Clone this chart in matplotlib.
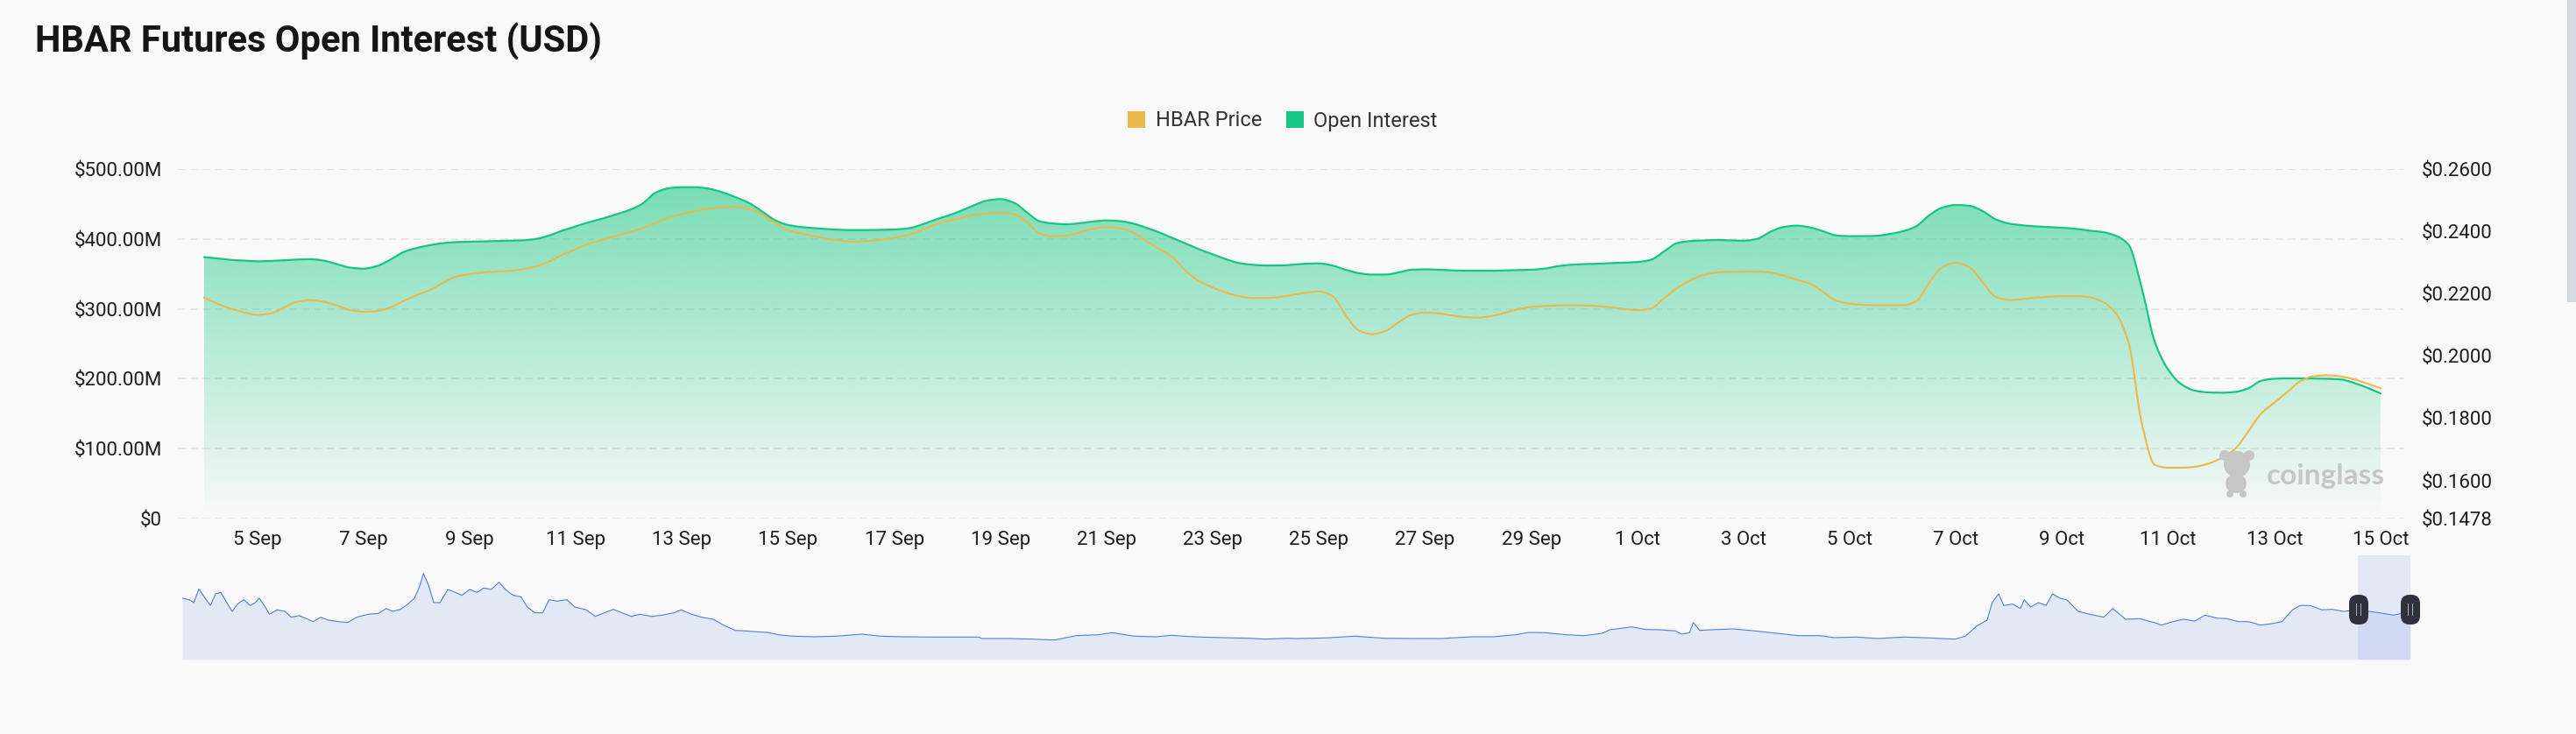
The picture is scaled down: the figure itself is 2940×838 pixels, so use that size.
import numpy as np
import matplotlib
matplotlib.use("Agg")
import matplotlib.pyplot as plt
import matplotlib.dates as mdates
from matplotlib.patches import Patch, FancyBboxPatch, Rectangle, Circle, Ellipse
from matplotlib.transforms import IdentityTransform
from matplotlib.ticker import FuncFormatter

# ---------------- data ----------------
start_date = "2025-09-04T00:00"
step_hours = 6
# Open interest (USD millions), every 6 hours from 4 Sep 00:00 to 15 Oct 00:00
open_interest = [
    374, 372, 370, 369, 368, 368.5, 369.5, 370.5,
    371, 369, 364, 359, 357.5, 361, 370, 381,
    387, 391, 394, 395.5, 396, 396.5, 397, 397.5,
    398, 400, 405, 412, 418, 424, 429, 435,
    441, 450, 466, 472.5, 474, 474, 472, 467,
    460, 452, 440, 427, 420, 417, 415.5, 414,
    413, 412.7, 412.7, 413, 413.5, 415, 420, 427,
    433, 440, 448, 455, 457, 452, 438, 425,
    422, 421, 422.5, 425, 426.5, 425.5, 422, 416,
    409, 401, 393, 385, 378, 371, 365.5, 363,
    362, 362, 363, 364.5, 365, 362, 356, 351,
    349, 349, 352, 356, 356.5, 356, 355, 354.6,
    354.5, 354.5, 355, 355.5, 356, 357.5, 361, 363,
    364, 364.5, 365.5, 366, 367, 370, 382, 394,
    397, 398, 398.5, 398, 397.5, 400, 410, 417,
    419, 416.5, 411, 405, 404, 404, 404.5, 407,
    411, 418, 434, 445, 448.6, 447.5, 440, 428,
    422, 419.5, 418, 417, 416, 414.5, 412, 410,
    405, 392, 330, 252, 213, 192, 183, 180.5,
    180, 181, 186, 197, 200, 200.5, 200.5, 200.3,
    200, 199, 194, 187, 179,
]
# HBAR price (USD), same timestamps
hbar_price = [
    0.2187, 0.2168, 0.2152, 0.2140, 0.2132, 0.2136, 0.2155, 0.2174,
    0.2179, 0.2174, 0.2162, 0.2147, 0.2142, 0.2144, 0.2155, 0.2176,
    0.2195, 0.2211, 0.2235, 0.2255, 0.2263, 0.2268, 0.2271, 0.2273,
    0.2278, 0.2287, 0.2303, 0.2325, 0.2343, 0.2360, 0.2372, 0.2385,
    0.2397, 0.2410, 0.2427, 0.2443, 0.2455, 0.2465, 0.2472, 0.2477,
    0.2479, 0.2473, 0.2455, 0.2428, 0.2404, 0.2393, 0.2384, 0.2376,
    0.2370, 0.2367, 0.2369, 0.2373, 0.2379, 0.2388, 0.2403, 0.2420,
    0.2433, 0.2442, 0.2452, 0.2458, 0.2460, 0.2455, 0.2430, 0.2392,
    0.2384, 0.2387, 0.2397, 0.2408, 0.2414, 0.2410, 0.2396, 0.2368,
    0.2343, 0.2316, 0.2272, 0.2240, 0.2220, 0.2203, 0.2192, 0.2186,
    0.2186, 0.2189, 0.2196, 0.2203, 0.2207, 0.2193, 0.2132, 0.2082,
    0.2070, 0.2080, 0.2108, 0.2132, 0.2139, 0.2137, 0.2130, 0.2125,
    0.2123, 0.2128, 0.2138, 0.2150, 0.2157, 0.2160, 0.2162, 0.2163,
    0.2162, 0.2160, 0.2156, 0.2151, 0.2147, 0.2152, 0.2185, 0.2218,
    0.2243, 0.2260, 0.2268, 0.2270, 0.2271, 0.2271, 0.2268, 0.2258,
    0.2245, 0.2232, 0.2205, 0.2177, 0.2168, 0.2164, 0.2163, 0.2163,
    0.2163, 0.2175, 0.2236, 0.2285, 0.2299, 0.2285, 0.2238, 0.2190,
    0.2180, 0.2182, 0.2187, 0.2190, 0.2192, 0.2192, 0.2189, 0.2175,
    0.2140, 0.2045, 0.1785, 0.1650, 0.1641, 0.1641, 0.1644, 0.1654,
    0.1672, 0.1700, 0.1755, 0.1815, 0.1850, 0.1885, 0.1920, 0.1935,
    0.1938, 0.1934, 0.1925, 0.1911, 0.1896,
]
# Navigator (full history overview): day offset and relative level
nav_days = [
    0, 6, 9, 13, 17, 22, 26, 30, 34, 39, 43, 48, 53, 57, 60, 64, 68, 74, 80, 85,
    91, 97, 102, 108, 114, 122, 129, 136, 145, 153, 159, 164, 170, 176, 181, 185, 188, 192, 196, 201,
    207, 213, 218, 224, 230, 235, 241, 247, 252, 258, 264, 269, 275, 281, 286, 292, 300, 306, 315, 322,
    329, 336, 343, 350, 357, 366, 374, 383, 389, 397, 405, 414, 422, 431, 439, 448, 456, 465, 476, 493,
    510, 530, 544, 561, 584, 606, 621, 623, 646, 663, 680, 697, 714, 725, 742, 759, 771, 788, 810, 833,
    844, 861, 869, 892, 914, 937, 960, 982, 1005, 1022, 1039, 1050, 1062, 1079, 1093, 1107, 1113, 1130,
    1141, 1152, 1164, 1169, 1175, 1178, 1183, 1192, 1209, 1226, 1243, 1260, 1277, 1288, 1305, 1322,
    1342, 1362, 1382, 1390, 1399, 1407, 1411, 1416, 1420, 1427, 1433, 1436, 1441, 1447, 1453, 1458,
    1464, 1469, 1478, 1487, 1498, 1505, 1509, 1515, 1526, 1537, 1543, 1552, 1560, 1569, 1577, 1586,
    1594, 1603, 1611, 1620, 1628, 1637, 1645, 1651, 1659, 1668, 1676, 1685, 1696, 1713, 1724, 1737,
]
nav_values = [
    70, 68, 65, 80.7, 71.7, 61.7, 75, 76.7, 66.7, 55, 63.3, 68.3, 61.7, 65, 70, 61.7, 51.7, 56.7, 55, 48.3,
    50, 46.7, 43.3, 48.3, 45, 43.3, 42.3, 48.3, 51.7, 52.7, 58.3, 55, 57.3, 63.3, 70, 83.3, 98.3, 85, 65, 65,
    80, 76.7, 73.3, 80, 76.7, 81.7, 80, 88.3, 80, 73.3, 71.7, 60, 53.3, 53.3, 68.3, 66.7, 68.3, 60, 56.7, 49.3,
    53.3, 57.3, 53.3, 49.3, 51.7, 49.3, 50.7, 53.3, 56.7, 51.7, 48.3, 46, 39.3, 33.3, 32.7, 31.7, 31, 28.3, 26.7, 26,
    26.7, 29, 26.7, 26, 25.7, 25.7, 25.7, 24, 24, 23.3, 22.3, 27.3, 28.3, 30.7, 26.7, 26, 27.7, 26, 25, 24.3,
    23.3, 24.3, 24, 24.7, 26.7, 24.3, 24, 24, 26, 26, 28.3, 31, 30.7, 28.3, 27.3, 30, 34, 37.3,
    34.3, 34, 32.7, 29, 30.7, 42.3, 33.3, 34, 35, 32.7, 30, 27.3, 27.3, 25, 25.7, 24,
    25.7, 24.7, 23.3, 26.7, 38.3, 45, 65, 75, 61.7, 63.3, 58.3, 68.3, 60, 65, 61.7, 75,
    70, 68.3, 55, 51.7, 48.3, 58.3, 53.3, 46, 46.7, 42.3, 39.3, 43.3, 46, 44, 50.7, 47.3,
    46.7, 43.3, 43.3, 39.3, 40.7, 43.3, 56.7, 61.7, 61.7, 56.7, 57.3, 55, 56.7, 53.3, 50.7, 55,
]
selected_window_days = 41

left_ticks = [0, 100, 200, 300, 400, 500]
right_ticks = [0.1478, 0.16, 0.18, 0.20, 0.22, 0.24, 0.26]

title = "HBAR Futures Open Interest (USD)"
legend_labels = ["HBAR Price", "Open Interest"]
watermark = "coinglass"

# ---------------- styles ----------------
BG = "#F9F9F9"
GREEN = "#16C784"
YELLOW = "#EAB94A"
GRID = "#E3E3E3"
TXT = "#1E1E1E"
W, H = 2940, 838


def pchip(x, y, xn):
    x = np.asarray(x, float)
    y = np.asarray(y, float)
    h = np.diff(x)
    d = np.diff(y) / h
    m = np.zeros_like(y)
    for k in range(1, len(y) - 1):
        if d[k - 1] * d[k] > 0:
            w1 = 2 * h[k] + h[k - 1]
            w2 = h[k] + 2 * h[k - 1]
            m[k] = (w1 + w2) / (w1 / d[k - 1] + w2 / d[k])
    m[0], m[-1] = d[0], d[-1]
    idx = np.clip(np.searchsorted(x, xn) - 1, 0, len(x) - 2)
    t = (xn - x[idx]) / h[idx]
    h00 = 2 * t**3 - 3 * t**2 + 1
    h10 = t**3 - 2 * t**2 + t
    h01 = -2 * t**3 + 3 * t**2
    h11 = t**3 - t**2
    return h00 * y[idx] + h10 * h[idx] * m[idx] + h01 * y[idx + 1] + h11 * h[idx] * m[idx + 1]


t0 = mdates.date2num(np.datetime64(start_date))
n = len(open_interest)
tx = t0 + np.arange(n) * step_hours / 24.0
xs = np.linspace(tx[0], tx[-1], 3000)
oi_s = pchip(tx, open_interest, xs)
pr_s = pchip(tx, hbar_price, xs)

fig = plt.figure(figsize=(W / 100, H / 100), dpi=100, facecolor=BG)

# main axes (pixel layout)
def fax(l, t, r, b):
    return [l / W, 1 - b / H, (r - l) / W, (b - t) / H]

ax = fig.add_axes(fax(203, 193, 2743, 592))
ax.set_facecolor("none")
ax2 = ax.twinx()
ax2.set_facecolor("none")

# gradient area
poly = ax.fill_between(xs, 0, oi_s, color="none", lw=0)
grad = np.zeros((256, 1, 4))
grad[:, 0, 0] = 22 / 255
grad[:, 0, 1] = 199 / 255
grad[:, 0, 2] = 132 / 255
grad[:, 0, 3] = np.linspace(0.0, 0.56, 256)
im = ax.imshow(grad, extent=[xs[0], xs[-1], 0, max(open_interest)], origin="lower",
               aspect="auto", zorder=2, interpolation="bilinear")
im.set_clip_path(poly.get_paths()[0], transform=ax.transData)
ax.plot(xs, oi_s, color=GREEN, lw=1.6, zorder=3, solid_capstyle="round")
ax2.plot(xs, pr_s, color=YELLOW, lw=1.5, zorder=3)

ax.set_xlim(t0 - 0.495, t0 + 41.43)
ax.set_ylim(0, 500)
ax2.set_ylim(0.1478, 0.26)
ax.set_yticks(left_ticks)
ax2.set_yticks(right_ticks)
ax.yaxis.set_major_formatter(FuncFormatter(lambda v, p: "$0" if v == 0 else f"${v:.2f}M"))
ax2.yaxis.set_major_formatter(FuncFormatter(lambda v, p: f"${v:.4f}"))

xt = t0 + np.arange(1, 42, 2)
ax.set_xticks(xt)
ax.xaxis.set_major_formatter(FuncFormatter(
    lambda v, p: f"{mdates.num2date(v).day} {mdates.num2date(v).strftime('%b')}"))

ax.grid(axis="y", color=GRID, lw=1.2, linestyle=(0, (5, 3.5)), zorder=0)
ax.grid(axis="x", visible=False)
ax.set_axisbelow(True)
for a in (ax, ax2):
    for s in a.spines.values():
        s.set_visible(False)
lab_font = dict(family=["Roboto", "DejaVu Sans"])
ax.tick_params(axis="x", length=0, pad=10, labelsize=16, labelcolor=TXT)
ax.tick_params(axis="y", length=0, pad=13, labelsize=16, labelcolor=TXT)
ax2.tick_params(axis="y", length=0, pad=15, labelsize=16, labelcolor=TXT)
for lab in ax.get_xticklabels() + ax.get_yticklabels() + ax2.get_yticklabels():
    lab.set_fontfamily(["Roboto", "DejaVu Sans"])

# title
fig.text(40 / W, 1 - 47 / H, title, ha="left", va="center", fontsize=30,
         fontweight="bold", color="#151515",
         family=["Liberation Sans Narrow", "Roboto", "DejaVu Sans"])

# legend
handles = [Patch(facecolor=YELLOW, edgecolor="none"), Patch(facecolor=GREEN, edgecolor="none")]
leg = fig.legend(handles, legend_labels, loc="center", bbox_to_anchor=(1464 / W, 1 - 138 / H),
                 ncol=2, frameon=False, handlelength=0.85, handleheight=0.85,
                 handletextpad=0.5, columnspacing=1.15,
                 prop=dict(family=["Roboto", "DejaVu Sans"], size=17))
for t in leg.get_texts():
    t.set_color("#333333")

# watermark
fig.text(2587 / W, 1 - 553 / H, watermark, ha="left", va="baseline", fontsize=24,
         fontweight="bold", color="#C6C6C6", family=["Lato", "DejaVu Sans"], zorder=5)
wm = "#C6C6C6"
for p in [Circle((2553, H - 530), 15), Circle((2539, H - 520), 6), Circle((2567, H - 520), 6),
          Ellipse((2552, H - 552), 24, 22), Ellipse((2545, H - 564), 8, 8), Ellipse((2560, H - 564), 8, 8)]:
    p.set_transform(IdentityTransform())
    p.set_facecolor(wm)
    p.set_edgecolor("none")
    p.set_zorder(5)
    fig.add_artist(p)

# navigator
nav = fig.add_axes(fax(208, 634, 2751, 753))
nav.set_facecolor("none")
nav.fill_between(nav_days, 0, nav_values, color="#E3E8F5", lw=0, zorder=1)
nav.plot(nav_days, nav_values, color="#4F7BE3", lw=0.8, zorder=2)
nav.set_xlim(0, nav_days[-1])
nav.set_ylim(0, 119)
nav.axvspan(nav_days[-1] - selected_window_days, nav_days[-1], color="#8FA6EE", alpha=0.2, lw=0, zorder=3)
nav.axis("off")
for cx in (2692, 2751):
    hb = FancyBboxPatch((cx - 11, H - 713), 22, 34, boxstyle="round,pad=0,rounding_size=10",
                        fc="#2F313C", ec="none", transform=IdentityTransform(), zorder=6)
    fig.add_artist(hb)
    for dx in (-2.5, 2.5):
        ln = Rectangle((cx + dx - 0.7, H - 703), 1.4, 14, fc="#A9AAB4", ec="none",
                       transform=IdentityTransform(), zorder=7)
        fig.add_artist(ln)

# page scrollbar at right edge
sb = Rectangle((2930, H - 345), 10, 345, fc="#D5D9E2", ec="none", transform=IdentityTransform())
fig.add_artist(sb)

fig.savefig("out.png", dpi=100, facecolor=BG)
